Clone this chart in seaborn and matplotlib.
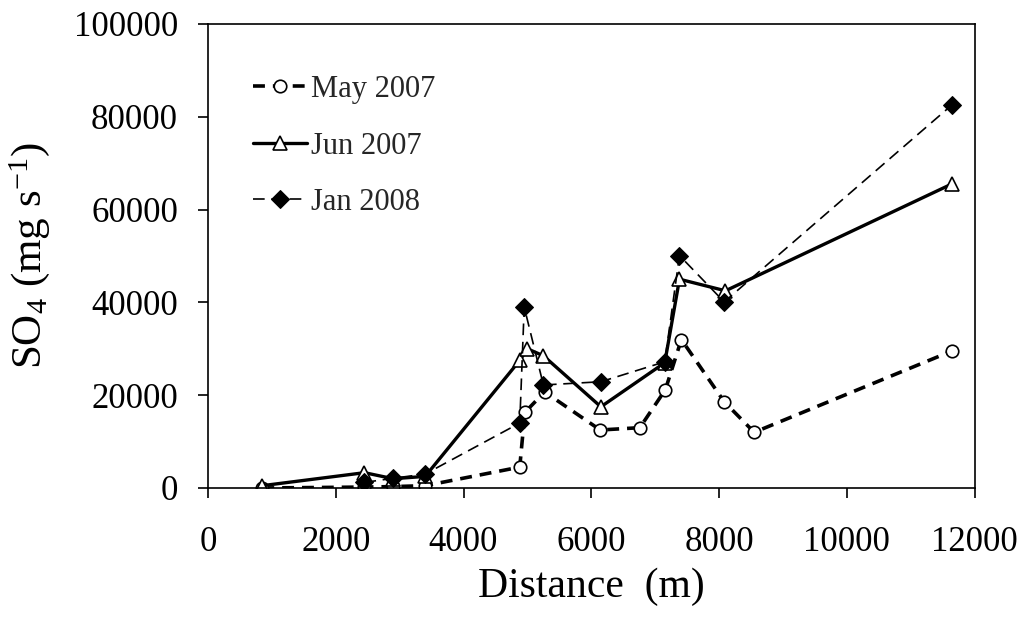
import numpy as np
import pandas as pd
import matplotlib
matplotlib.use("Agg")
import matplotlib.pyplot as plt
import seaborn as sns

# Values
may_x = [850, 2450, 2900, 3400, 4880, 4960, 5270, 6140, 6760, 7160, 7410, 8080, 8550, 11640]
may_y = [0, 200, 300, 500, 4500, 16300, 20700, 12500, 13000, 21200, 32000, 18600, 12000, 29500]

jun_x = [850, 2450, 2900, 3400, 4880, 5000, 5250, 6150, 7150, 7380, 8100, 11640]
jun_y = [500, 3300, 2000, 2500, 27500, 30000, 28500, 17500, 27000, 45000, 42500, 65500]

jan_x = [2450, 2900, 3400, 4880, 4950, 5250, 6150, 7150, 7380, 8080, 11640]
jan_y = [1200, 2100, 3000, 14000, 39000, 22200, 22900, 27200, 50100, 40100, 82500]

sns.set_theme(style="ticks")
plt.rcParams['font.family'] = ['Liberation Serif', 'DejaVu Serif']
plt.rcParams['mathtext.fontset'] = 'custom'
plt.rcParams['mathtext.rm'] = 'Liberation Serif'
plt.rcParams['mathtext.it'] = 'Liberation Serif:italic'

fig = plt.figure(figsize=(10.27, 6.23), dpi=100)
ax = fig.add_axes([0.2025, 0.2167, 0.7465, 0.7448])

may = pd.DataFrame({"dist": may_x, "so4": may_y})
jun = pd.DataFrame({"dist": jun_x, "so4": jun_y})
jan = pd.DataFrame({"dist": jan_x, "so4": jan_y})

sns.lineplot(data=may, x="dist", y="so4", ax=ax, sort=False, color="black",
             lw=2.6, linestyle=(0, (3.3, 2.2)), marker="o", markersize=9,
             markerfacecolor="white", markeredgecolor="black", markeredgewidth=1.2,
             label="May 2007")
sns.lineplot(data=jun, x="dist", y="so4", ax=ax, sort=False, color="black",
             lw=2.4, marker="^", markersize=10, markerfacecolor="white",
             markeredgecolor="black", markeredgewidth=1.2, label="Jun 2007")
sns.lineplot(data=jan, x="dist", y="so4", ax=ax, sort=False, color="black",
             lw=1.2, linestyle=(0, (7, 4)), marker="D", markersize=9.5,
             markerfacecolor="black", markeredgecolor="black", label="Jan 2008")

ax.set_xlim(0, 12000)
ax.set_ylim(0, 100000)
ax.set_xticks(np.arange(0, 12001, 2000))
ax.set_yticks(np.arange(0, 100001, 20000))
ax.tick_params(axis="both", labelsize=25, length=7.5, width=1.2, color="black",
               direction="out", labelcolor="black")
ax.tick_params(axis="x", pad=20)
ax.tick_params(axis="y", pad=14)
for s in ax.spines.values():
    s.set_visible(True)
    s.set_color("black")
    s.set_linewidth(1.2)

ax.set_xlabel("Distance  (m)", fontsize=30, color="black", labelpad=6)
ax.set_ylabel(r"SO$_4$ (mg s$^{-1}$)", fontsize=31, color="black", labelpad=16)

ax.legend(loc="upper left", bbox_to_anchor=(0.043, 0.916), borderaxespad=0,
          frameon=False, fontsize=22, labelspacing=0.9, handlelength=1.75,
          handletextpad=0.15)

fig.savefig("out.png", dpi=100)
